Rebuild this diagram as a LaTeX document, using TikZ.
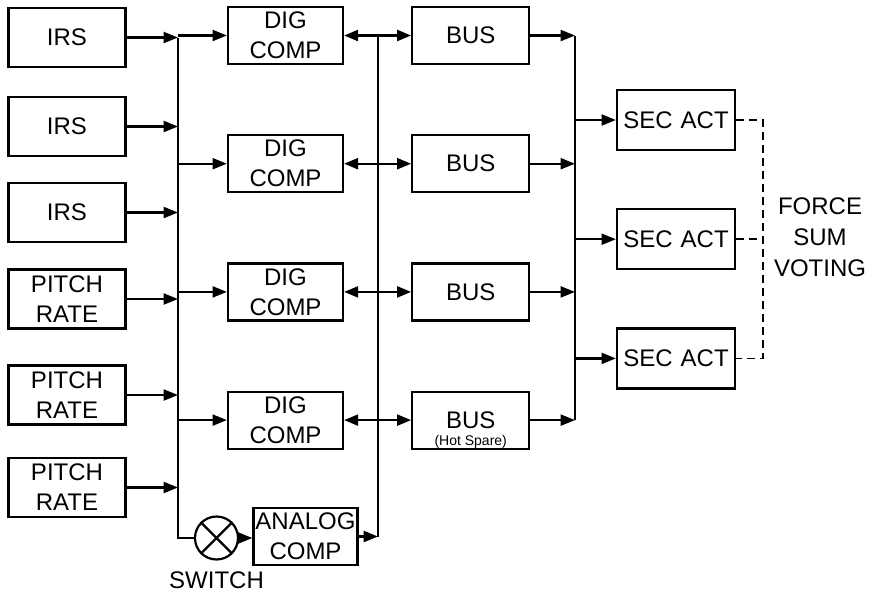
\documentclass[tikz,border=0pt]{standalone}
\usepackage{fontspec}
\setmainfont{Liberation Sans}
\usetikzlibrary{positioning,arrows.meta}

\begin{document}
\begin{tikzpicture}[
  x=0.5pt,y=-0.5pt,
  node distance=34.5pt and 33.5pt,
  every node/.style={font=\fontsize{12}{15}\selectfont},
  inbox/.style={draw,line width=1.1pt,minimum width=58.5pt,minimum height=29.5pt,
    align=center,inner sep=1pt},
  digbox/.style={inbox,minimum width=57.5pt,minimum height=28.5pt},
  busbox/.style={inbox,minimum width=58.5pt,minimum height=28.5pt},
  secbox/.style={inbox,minimum width=59pt,minimum height=30pt},
  wire/.style={line width=1.1pt},
  arr/.style={wire,-{Triangle[length=7.2pt,width=5.5pt]}},
  biarr/.style={wire,{Triangle[length=7pt,width=5.5pt]}-{Triangle[length=7pt,width=5.5pt]}},
  dashwire/.style={line width=0.9pt,dash pattern=on 4pt off 2.5pt},
  small/.style={font=\fontsize{7}{8}\selectfont}
]
  \useasboundingbox (0,0) rectangle (872,591);

  % --- sensors ---
  \node[inbox] (irs1) at (67,37.5) {IRS};
  \node[inbox] (irs2) at (67,126.5) {IRS};
  \node[inbox] (irs3) at (67,212.5) {IRS};
  \node[inbox] (rate1) at (67,299) {PITCH\\RATE};
  \node[inbox] (rate2) at (67,395) {PITCH\\RATE};
  \node[inbox] (rate3) at (67,487.5) {PITCH\\RATE};

  % --- computers ---
  \node[digbox] (dig1) at (285.5,35.5) {DIG\\COMP};
  \node[digbox,below=of dig1] (dig2) {DIG\\COMP};
  \node[digbox,below=of dig2] (dig3) {DIG\\COMP};
  \node[digbox,below=of dig3] (dig4) {DIG\\COMP};
  \node[draw,circle,line width=1.1pt,minimum size=21.5pt,inner sep=0pt] (sw) at (216.5,538) {};
  \node[below=2pt of sw] (swlbl) {SWITCH};
  \node[digbox,minimum width=45.5pt] (analog) at (305.5,536.5) {ANALOG\\COMP};

  % --- buses ---
  \node[busbox,right=of dig1] (bus1) {BUS};
  \node[busbox,right=of dig2] (bus2) {BUS};
  \node[busbox,right=of dig3] (bus3) {BUS};
  \node[busbox,right=of dig4,
    label={[small,anchor=south,inner sep=0.5pt]south:(Hot Spare)}] (bus4) {BUS};

  % --- actuators ---
  \node[secbox] (sec1) at (676,120) {SEC\hspace{4pt}ACT};
  \node[secbox,below=28.5pt of sec1] (sec2) {SEC\hspace{4pt}ACT};
  \node[secbox,below=28.5pt of sec2] (sec3) {SEC\hspace{4pt}ACT};
  \node[align=center,font=\fontsize{12}{15.5}\selectfont] (force) at (820,237) {FORCE\\SUM\\VOTING};

  % bus lines
  \coordinate (lbus) at (178,0);
  \coordinate (mbus) at (378,0);
  \coordinate (rbus) at (575,0);
  \coordinate (vote) at (763,0);

  % inputs to left bus
  \draw[wire] (irs1.east -| lbus) |- (sw.west);
  \draw[arr] (irs1.east) -- (irs1.east -| lbus);
  \draw[arr] (irs2.east) -- (irs2.east -| lbus);
  \draw[arr] (irs3.east) -- (irs3.east -| lbus);
  \draw[arr] (rate1.east) -- (rate1.east -| lbus);
  \draw[arr] (rate2.east) -- (rate2.east -| lbus);
  \draw[arr] (rate3.east) -- (rate3.east -| lbus);

  % left bus to computers
  \draw[arr] (dig1.west -| lbus) -- (dig1.west);
  \draw[arr] (dig2.west -| lbus) -- (dig2.west);
  \draw[arr] (dig3.west -| lbus) -- (dig3.west);
  \draw[arr] (dig4.west -| lbus) -- (dig4.west);
  \draw[wire] (sw.north west) -- (sw.south east) (sw.north east) -- (sw.south west);
  \draw[arr] (sw.east) -- (analog.west |- sw.east);

  % computers to buses
  \draw[wire] (dig1.east -| mbus) -- (analog.east -| mbus);
  \draw[arr] (analog.east) -- (analog.east -| mbus);
  \draw[biarr] (dig1.east) -- (bus1.west);
  \draw[biarr] (dig2.east) -- (bus2.west);
  \draw[biarr] (dig3.east) -- (bus3.west);
  \draw[biarr] (dig4.east) -- (bus4.west);

  % buses to actuators
  \draw[wire] (bus1.east -| rbus) -- (bus4.east -| rbus);
  \draw[arr] (bus1.east) -- (bus1.east -| rbus);
  \draw[arr] (bus2.east) -- (bus2.east -| rbus);
  \draw[arr] (bus3.east) -- (bus3.east -| rbus);
  \draw[arr] (bus4.east) -- (bus4.east -| rbus);
  \draw[arr] (sec1.west -| rbus) -- (sec1.west);
  \draw[arr] (sec2.west -| rbus) -- (sec2.west);
  \draw[arr] (sec3.west -| rbus) -- (sec3.west);

  % voting
  \draw[dashwire] (sec1.east) -- (sec1.east -| vote) -- (sec3.east -| vote) -- (sec3.east);
  \draw[dashwire] (sec2.east) -- (sec2.east -| vote);
\end{tikzpicture}
\end{document}
